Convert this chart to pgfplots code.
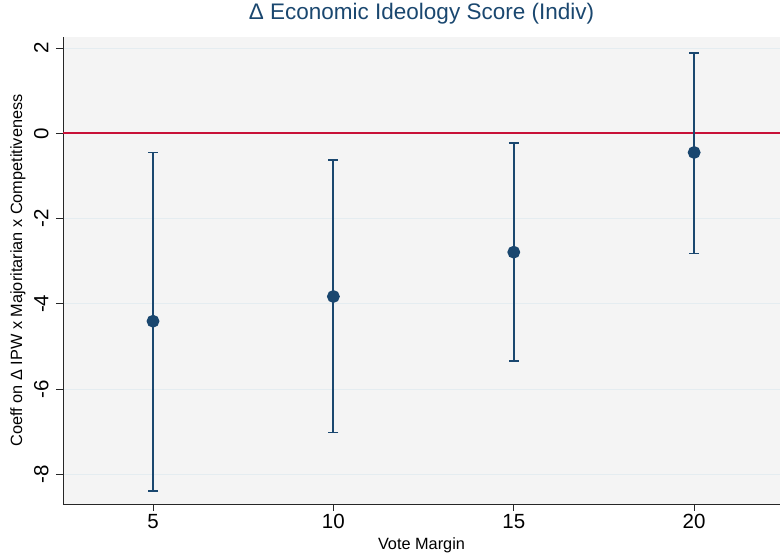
\documentclass[border=0pt]{standalone}
\usepackage{pgfplots}
\pgfplotsset{compat=1.18}
\usepackage{fontspec}
\setmainfont{Liberation Sans}
\definecolor{stnavy}{RGB}{26,71,111}
\definecolor{zeroline}{RGB}{200,16,55}
\definecolor{bgc}{RGB}{244,244,244}
\definecolor{gridc}{RGB}{228,236,240}
\begin{document}
\begin{tikzpicture}
\begin{axis}[
  at={(0pt,0pt)}, anchor=south west,
  scale only axis, width=717pt, height=467pt,
  xmin=2.505, xmax=22.38, ymin=-8.70, ymax=2.26,
  axis x line*=bottom, axis y line*=left,
  axis line style={line width=0.9pt, black!85},
  axis background/.style={fill=bgc},
  xtick={5,10,15,20}, ytick={-8,-6,-4,-2,0,2},
  yticklabels={-8,-6,-4,-2,0,2},
  xticklabels={5,10,15,20},
  tick style={line width=0.8pt, black!85},
  major tick length=7pt, tick align=outside,
  ymajorgrids, major grid style={gridc, line width=0.8pt},
  /pgf/number format/assume math mode=true,
  ticklabel style={font=\fontsize{20.5}{24}\selectfont},
  yticklabel style={rotate=90, anchor=south, yshift=4pt},
  xlabel={Vote Margin}, ylabel={Coeff on Δ IPW x Majoritarian x Competitiveness},
  label style={font=\fontsize{16.3}{19}\selectfont},
  xlabel style={at={(axis description cs:0.5,-0.0878)}, anchor=center},
  ylabel style={at={(axis description cs:-0.0628,0.5)}, anchor=center},
  title={Δ Economic Ideology Score (Indiv)},
  title style={font=\fontsize{22.5}{26}\selectfont, text=stnavy, at={(axis description cs:0.5,1.0364)}, anchor=center},
  clip=false,
]
\addplot[color=zeroline, line width=1.7pt, mark=none, forget plot] table {
x y
2.505 0
22.38 0
};
\addplot[color=stnavy, line width=1.8pt, mark=*, mark size=5.5pt, only marks,
  mark options={fill=stnavy, draw=stnavy},
  error bars/.cd, y dir=both, y explicit, error mark=-, error bar style={line width=1.8pt, stnavy},
  error mark options={line width=1.8pt, mark size=5pt, rotate=90}]
  table[x=x, y=y, y error plus=ep, y error minus=em] {
x y ep em
5 -4.41 3.96 3.99
10 -3.83 3.20 3.19
15 -2.79 2.56 2.56
20 -0.45 2.33 2.37
};
\end{axis}
\pgfresetboundingbox
\path (-63pt,-50pt) rectangle (717pt,504pt);
\end{tikzpicture}
\end{document}
